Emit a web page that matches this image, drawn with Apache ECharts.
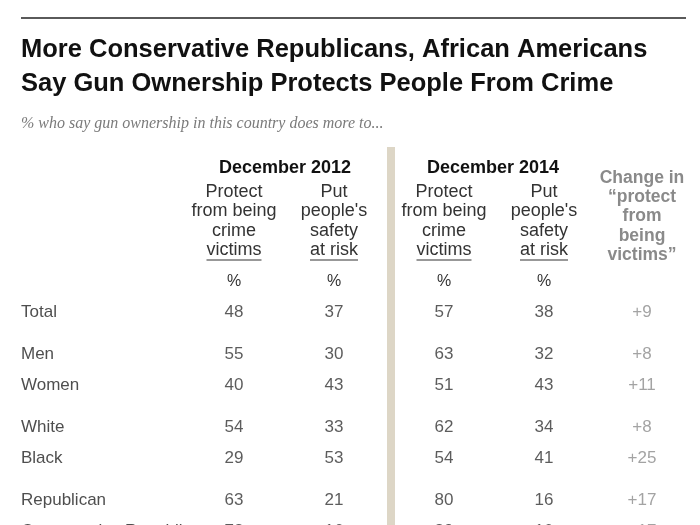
<!DOCTYPE html>
<html><head><meta charset="utf-8">
<script src="https://cdn.jsdelivr.net/npm/echarts@6/dist/echarts.min.js"></script>
<style>html,body{margin:0;padding:0;background:#fff}#c{width:700px;height:525px}</style>
</head><body><div id="c"></div>
<script>
// ---- data ----
const rowLabels = ['Total','Men','Women','White','Black','Republican','Conservative Republican'];
const rowGroup  = [0,1,1,2,2,3,3];
const protect2012 = [48,55,40,54,29,63,72];
const risk2012    = [37,30,43,33,53,21,16];
const protect2014 = [57,63,51,62,54,80,89];
const risk2014    = [38,32,43,34,41,16,10];
const changeProtect = ['+9','+8','+11','+8','+25','+17','+17'];
const periodHeads = ['December 2012','December 2014'];
const protectHead = ['Protect','from being','crime','victims'];
const riskHead = ["Put","people's","safety","at risk"];
const changeHead = ['Change in','\u201cprotect','from','being','victims\u201d'];
const titleLines = ['More Conservative Republicans, African Americans','Say Gun Ownership Protects People From Crime'];
const subtitle = '% who say gun ownership in this country does more to...';

// ---- layout ----
const colX = [234,334,444,544,642];
const labelX = 21;
const groupGap = 0.355;
function rowPos(i){ return i + rowGroup[i]*groupGap; }
const SANS = '"Liberation Sans", Arial, sans-serif';

const chart = echarts.init(document.getElementById('c'));
const cols = [protect2012, risk2012, protect2014, risk2014, changeProtect];
const series = cols.map((vals,j)=>({
  type:'scatter', clip:false, symbolSize:1, itemStyle:{color:'rgba(0,0,0,0)'}, silent:true,
  data: vals.map((v,i)=>[colX[j], rowPos(i), v]),
  label:{show:true, position:'inside', formatter:p=>String(p.value[2]),
    color: j===4 ? '#8c8c8c' : '#333', fontSize:17, fontFamily:SANS}
}));
series.push({
  type:'scatter', clip:false, symbolSize:1, itemStyle:{color:'rgba(0,0,0,0)'}, silent:true,
  data: rowLabels.map((r,i)=>[labelX, rowPos(i), r]),
  label:{show:true, position:'inside', align:'left', formatter:p=>p.value[2],
    color:'#222', fontSize:17, fontFamily:SANS}
});

function measure(t, font){ const c=document.createElement('canvas').getContext('2d'); c.font=font; return c.measureText(t).width; }

const graphic = [];
graphic.push({type:'rect', shape:{x:21,y:17,width:665,height:2}, style:{fill:'#5a5a5a'}});
graphic.push({type:'rect', shape:{x:387,y:147,width:8,height:378}, style:{fill:'#ddd6c6'}});
titleLines.forEach((t,i)=>graphic.push({type:'text', x:21, y:50+i*34,
  style:{text:t, fill:'#111', font:'bold 25.5px "Liberation Sans", Arial, sans-serif', textVerticalAlign:'middle'}}));
graphic.push({type:'text', x:21, y:124, style:{text:subtitle, fill:'#7a7a7a', font:'italic 16px "Liberation Serif", serif', textVerticalAlign:'middle'}});
[285,493].forEach((cx,i)=>graphic.push({type:'text', x:cx, y:168,
  style:{text:periodHeads[i], fill:'#111', font:'bold 18px '+SANS, textAlign:'center', textVerticalAlign:'middle'}}));
const headFont = '18px '+SANS;
[[0,protectHead],[1,riskHead],[2,protectHead],[3,riskHead]].forEach(([j,lines])=>{
  lines.forEach((t,k)=>{
    const y = 192 + k*19.5;
    graphic.push({type:'text', x:colX[j], y:y, style:{text:t, fill:'#333', font:headFont, textAlign:'center', textVerticalAlign:'middle'}});
    if(k===lines.length-1){
      const w = measure(t, headFont);
      graphic.push({type:'rect', shape:{x:colX[j]-w/2, y:y+9, width:w, height:1}, style:{fill:'#333'}});
    }
  });
  graphic.push({type:'text', x:colX[j], y:282, style:{text:'%', fill:'#333', font:'16px '+SANS, textAlign:'center', textVerticalAlign:'middle'}});
});
changeHead.forEach((t,k)=>graphic.push({type:'text', x:colX[4], y:178+k*19.3,
  style:{text:t, fill:'#8a8a8a', font:'bold 17.5px '+SANS, textAlign:'center', textVerticalAlign:'middle'}}));

chart.setOption({
  animation:false,
  grid:{left:0, width:700, top:312, height:6.5*31},
  xAxis:{type:'value', min:0, max:700, show:false},
  yAxis:{type:'value', min:0, max:6.5, inverse:true, show:false},
  series: series,
  graphic: graphic
});
</script></body></html>
